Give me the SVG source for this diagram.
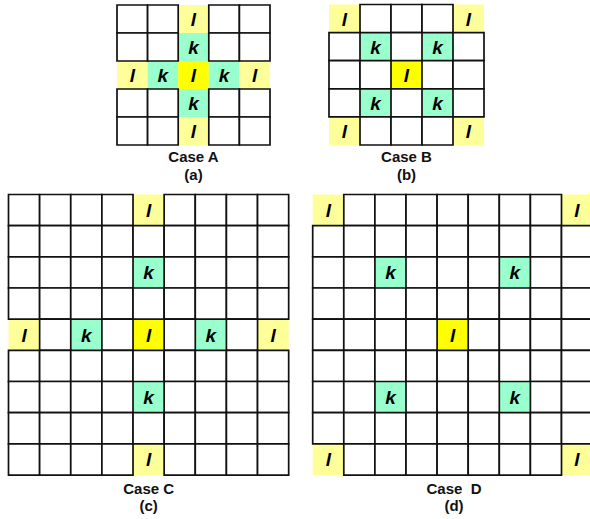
<svg xmlns="http://www.w3.org/2000/svg" width="590" height="519" viewBox="0 0 590 519">
<style>
.w{fill:#fff;stroke:#111;stroke-width:1.7;vector-effect:non-scaling-stroke}
.y{fill:#ffff99}
.g{fill:#99ffcc}
.b{fill:#ffff00}
.t{font-family:"Liberation Sans",Arial,sans-serif;font-weight:bold;font-style:italic;font-size:19px;fill:#000;text-anchor:middle}
.c{font-family:"Liberation Sans",Arial,sans-serif;font-weight:bold;font-size:15px;fill:#111;text-anchor:middle;white-space:pre}
</style>
<rect width="590" height="519" fill="#fff"/>
<g id="caseA">
<g transform="translate(117,5) scale(30.6,28)">
<rect class="y" x="2" y="0" width="1" height="1"/><rect class="g" x="2" y="1" width="1" height="1"/>
<rect class="y" x="0" y="2" width="1" height="1"/><rect class="g" x="1" y="2" width="1" height="1"/><rect class="b" x="2" y="2" width="1" height="1"/><rect class="g" x="3" y="2" width="1" height="1"/><rect class="y" x="4" y="2" width="1" height="1"/>
<rect class="g" x="2" y="3" width="1" height="1"/><rect class="y" x="2" y="4" width="1" height="1"/>
<rect class="w" x="0" y="0" width="1" height="1"/><rect class="w" x="1" y="0" width="1" height="1"/><rect class="w" x="3" y="0" width="1" height="1"/><rect class="w" x="4" y="0" width="1" height="1"/>
<rect class="w" x="0" y="1" width="1" height="1"/><rect class="w" x="1" y="1" width="1" height="1"/><rect class="w" x="3" y="1" width="1" height="1"/><rect class="w" x="4" y="1" width="1" height="1"/>
<rect class="w" x="0" y="3" width="1" height="1"/><rect class="w" x="1" y="3" width="1" height="1"/><rect class="w" x="3" y="3" width="1" height="1"/><rect class="w" x="4" y="3" width="1" height="1"/>
<rect class="w" x="0" y="4" width="1" height="1"/><rect class="w" x="1" y="4" width="1" height="1"/><rect class="w" x="3" y="4" width="1" height="1"/><rect class="w" x="4" y="4" width="1" height="1"/>
</g>
<text class="t" x="193.5" y="26">l</text><text class="t" x="193.5" y="54">k</text>
<text class="t" x="132.3" y="82">l</text><text class="t" x="162.9" y="82">k</text><text class="t" x="193.5" y="82">l</text><text class="t" x="224.1" y="82">k</text><text class="t" x="254.7" y="82">l</text>
<text class="t" x="193.5" y="110">k</text><text class="t" x="193.5" y="138">l</text>
<text class="c" x="193.5" y="162">Case A</text><text class="c" x="193.5" y="180">(a)</text>
</g>
<g id="caseB">
<g transform="translate(329,4.5) scale(31,28.1)">
<rect class="y" x="0" y="0" width="1" height="1"/><rect class="y" x="4" y="0" width="1" height="1"/><rect class="y" x="0" y="4" width="1" height="1"/><rect class="y" x="4" y="4" width="1" height="1"/>
<rect class="g" x="1" y="1" width="1" height="1"/><rect class="g" x="3" y="1" width="1" height="1"/><rect class="g" x="1" y="3" width="1" height="1"/><rect class="g" x="3" y="3" width="1" height="1"/>
<rect class="b" x="2" y="2" width="1" height="1"/>
<rect class="w" x="1" y="0" width="1" height="1"/><rect class="w" x="2" y="0" width="1" height="1"/><rect class="w" x="3" y="0" width="1" height="1"/>
<rect class="w" x="0" y="1" width="1" height="1"/><rect class="w" x="2" y="1" width="1" height="1"/><rect class="w" x="4" y="1" width="1" height="1"/>
<rect class="w" x="0" y="2" width="1" height="1"/><rect class="w" x="1" y="2" width="1" height="1"/><rect class="w" x="3" y="2" width="1" height="1"/><rect class="w" x="4" y="2" width="1" height="1"/>
<rect class="w" x="0" y="3" width="1" height="1"/><rect class="w" x="2" y="3" width="1" height="1"/><rect class="w" x="4" y="3" width="1" height="1"/>
<rect class="w" x="1" y="4" width="1" height="1"/><rect class="w" x="2" y="4" width="1" height="1"/><rect class="w" x="3" y="4" width="1" height="1"/>
</g>
<text class="t" x="344.5" y="25.5">l</text><text class="t" x="468.5" y="25.5">l</text>
<text class="t" x="375.5" y="53.6">k</text><text class="t" x="437.5" y="53.6">k</text>
<text class="t" x="406.5" y="81.7">l</text>
<text class="t" x="375.5" y="109.8">k</text><text class="t" x="437.5" y="109.8">k</text>
<text class="t" x="344.5" y="137.9">l</text><text class="t" x="468.5" y="137.9">l</text>
<text class="c" x="406.5" y="162">Case B</text><text class="c" x="406.5" y="180">(b)</text>
</g>
<g id="caseC">
<g transform="translate(8.5,194.5) scale(31.13,31.17)">
<rect class="y" x="4" y="0" width="1" height="1"/><rect class="g" x="4" y="2" width="1" height="1"/>
<rect class="y" x="0" y="4" width="1" height="1"/><rect class="g" x="2" y="4" width="1" height="1"/><rect class="b" x="4" y="4" width="1" height="1"/><rect class="g" x="6" y="4" width="1" height="1"/><rect class="y" x="8" y="4" width="1" height="1"/>
<rect class="g" x="4" y="6" width="1" height="1"/><rect class="y" x="4" y="8" width="1" height="1"/>
<rect class="w" x="0" y="0" width="1" height="1"/><rect class="w" x="1" y="0" width="1" height="1"/><rect class="w" x="2" y="0" width="1" height="1"/><rect class="w" x="3" y="0" width="1" height="1"/><rect class="w" x="5" y="0" width="1" height="1"/><rect class="w" x="6" y="0" width="1" height="1"/><rect class="w" x="7" y="0" width="1" height="1"/><rect class="w" x="8" y="0" width="1" height="1"/>
<rect class="w" x="0" y="1" width="1" height="1"/><rect class="w" x="1" y="1" width="1" height="1"/><rect class="w" x="2" y="1" width="1" height="1"/><rect class="w" x="3" y="1" width="1" height="1"/><rect class="w" x="4" y="1" width="1" height="1"/><rect class="w" x="5" y="1" width="1" height="1"/><rect class="w" x="6" y="1" width="1" height="1"/><rect class="w" x="7" y="1" width="1" height="1"/><rect class="w" x="8" y="1" width="1" height="1"/>
<rect class="w" x="0" y="2" width="1" height="1"/><rect class="w" x="1" y="2" width="1" height="1"/><rect class="w" x="2" y="2" width="1" height="1"/><rect class="w" x="3" y="2" width="1" height="1"/><rect class="w" x="5" y="2" width="1" height="1"/><rect class="w" x="6" y="2" width="1" height="1"/><rect class="w" x="7" y="2" width="1" height="1"/><rect class="w" x="8" y="2" width="1" height="1"/>
<rect class="w" x="0" y="3" width="1" height="1"/><rect class="w" x="1" y="3" width="1" height="1"/><rect class="w" x="2" y="3" width="1" height="1"/><rect class="w" x="3" y="3" width="1" height="1"/><rect class="w" x="4" y="3" width="1" height="1"/><rect class="w" x="5" y="3" width="1" height="1"/><rect class="w" x="6" y="3" width="1" height="1"/><rect class="w" x="7" y="3" width="1" height="1"/><rect class="w" x="8" y="3" width="1" height="1"/>
<rect class="w" x="1" y="4" width="1" height="1"/><rect class="w" x="3" y="4" width="1" height="1"/><rect class="w" x="5" y="4" width="1" height="1"/><rect class="w" x="7" y="4" width="1" height="1"/>
<rect class="w" x="0" y="5" width="1" height="1"/><rect class="w" x="1" y="5" width="1" height="1"/><rect class="w" x="2" y="5" width="1" height="1"/><rect class="w" x="3" y="5" width="1" height="1"/><rect class="w" x="4" y="5" width="1" height="1"/><rect class="w" x="5" y="5" width="1" height="1"/><rect class="w" x="6" y="5" width="1" height="1"/><rect class="w" x="7" y="5" width="1" height="1"/><rect class="w" x="8" y="5" width="1" height="1"/>
<rect class="w" x="0" y="6" width="1" height="1"/><rect class="w" x="1" y="6" width="1" height="1"/><rect class="w" x="2" y="6" width="1" height="1"/><rect class="w" x="3" y="6" width="1" height="1"/><rect class="w" x="5" y="6" width="1" height="1"/><rect class="w" x="6" y="6" width="1" height="1"/><rect class="w" x="7" y="6" width="1" height="1"/><rect class="w" x="8" y="6" width="1" height="1"/>
<rect class="w" x="0" y="7" width="1" height="1"/><rect class="w" x="1" y="7" width="1" height="1"/><rect class="w" x="2" y="7" width="1" height="1"/><rect class="w" x="3" y="7" width="1" height="1"/><rect class="w" x="4" y="7" width="1" height="1"/><rect class="w" x="5" y="7" width="1" height="1"/><rect class="w" x="6" y="7" width="1" height="1"/><rect class="w" x="7" y="7" width="1" height="1"/><rect class="w" x="8" y="7" width="1" height="1"/>
<rect class="w" x="0" y="8" width="1" height="1"/><rect class="w" x="1" y="8" width="1" height="1"/><rect class="w" x="2" y="8" width="1" height="1"/><rect class="w" x="3" y="8" width="1" height="1"/><rect class="w" x="5" y="8" width="1" height="1"/><rect class="w" x="6" y="8" width="1" height="1"/><rect class="w" x="7" y="8" width="1" height="1"/><rect class="w" x="8" y="8" width="1" height="1"/>
</g>
<text class="t" x="148.6" y="217">l</text><text class="t" x="148.6" y="279.3">k</text>
<text class="t" x="24.1" y="341.7">l</text><text class="t" x="86.3" y="341.7">k</text><text class="t" x="148.6" y="341.7">l</text><text class="t" x="210.8" y="341.7">k</text><text class="t" x="273.1" y="341.7">l</text>
<text class="t" x="148.6" y="404">k</text><text class="t" x="148.6" y="466.3">l</text>
<text class="c" x="148.7" y="494">Case C</text><text class="c" x="148.7" y="511">(c)</text>
</g>
<g id="caseD">
<g transform="translate(312.7,194.5) scale(31.1,31.17)">
<rect class="y" x="0" y="0" width="1" height="1"/><rect class="y" x="8" y="0" width="1" height="1"/><rect class="y" x="0" y="8" width="1" height="1"/><rect class="y" x="8" y="8" width="1" height="1"/>
<rect class="g" x="2" y="2" width="1" height="1"/><rect class="g" x="6" y="2" width="1" height="1"/><rect class="g" x="2" y="6" width="1" height="1"/><rect class="g" x="6" y="6" width="1" height="1"/>
<rect class="b" x="4" y="4" width="1" height="1"/>
<rect class="w" x="1" y="0" width="1" height="1"/><rect class="w" x="2" y="0" width="1" height="1"/><rect class="w" x="3" y="0" width="1" height="1"/><rect class="w" x="4" y="0" width="1" height="1"/><rect class="w" x="5" y="0" width="1" height="1"/><rect class="w" x="6" y="0" width="1" height="1"/><rect class="w" x="7" y="0" width="1" height="1"/>
<rect class="w" x="0" y="1" width="1" height="1"/><rect class="w" x="1" y="1" width="1" height="1"/><rect class="w" x="2" y="1" width="1" height="1"/><rect class="w" x="3" y="1" width="1" height="1"/><rect class="w" x="4" y="1" width="1" height="1"/><rect class="w" x="5" y="1" width="1" height="1"/><rect class="w" x="6" y="1" width="1" height="1"/><rect class="w" x="7" y="1" width="1" height="1"/><rect class="w" x="8" y="1" width="1" height="1"/>
<rect class="w" x="0" y="2" width="1" height="1"/><rect class="w" x="1" y="2" width="1" height="1"/><rect class="w" x="3" y="2" width="1" height="1"/><rect class="w" x="4" y="2" width="1" height="1"/><rect class="w" x="5" y="2" width="1" height="1"/><rect class="w" x="7" y="2" width="1" height="1"/><rect class="w" x="8" y="2" width="1" height="1"/>
<rect class="w" x="0" y="3" width="1" height="1"/><rect class="w" x="1" y="3" width="1" height="1"/><rect class="w" x="2" y="3" width="1" height="1"/><rect class="w" x="3" y="3" width="1" height="1"/><rect class="w" x="4" y="3" width="1" height="1"/><rect class="w" x="5" y="3" width="1" height="1"/><rect class="w" x="6" y="3" width="1" height="1"/><rect class="w" x="7" y="3" width="1" height="1"/><rect class="w" x="8" y="3" width="1" height="1"/>
<rect class="w" x="0" y="4" width="1" height="1"/><rect class="w" x="1" y="4" width="1" height="1"/><rect class="w" x="2" y="4" width="1" height="1"/><rect class="w" x="3" y="4" width="1" height="1"/><rect class="w" x="5" y="4" width="1" height="1"/><rect class="w" x="6" y="4" width="1" height="1"/><rect class="w" x="7" y="4" width="1" height="1"/><rect class="w" x="8" y="4" width="1" height="1"/>
<rect class="w" x="0" y="5" width="1" height="1"/><rect class="w" x="1" y="5" width="1" height="1"/><rect class="w" x="2" y="5" width="1" height="1"/><rect class="w" x="3" y="5" width="1" height="1"/><rect class="w" x="4" y="5" width="1" height="1"/><rect class="w" x="5" y="5" width="1" height="1"/><rect class="w" x="6" y="5" width="1" height="1"/><rect class="w" x="7" y="5" width="1" height="1"/><rect class="w" x="8" y="5" width="1" height="1"/>
<rect class="w" x="0" y="6" width="1" height="1"/><rect class="w" x="1" y="6" width="1" height="1"/><rect class="w" x="3" y="6" width="1" height="1"/><rect class="w" x="4" y="6" width="1" height="1"/><rect class="w" x="5" y="6" width="1" height="1"/><rect class="w" x="7" y="6" width="1" height="1"/><rect class="w" x="8" y="6" width="1" height="1"/>
<rect class="w" x="0" y="7" width="1" height="1"/><rect class="w" x="1" y="7" width="1" height="1"/><rect class="w" x="2" y="7" width="1" height="1"/><rect class="w" x="3" y="7" width="1" height="1"/><rect class="w" x="4" y="7" width="1" height="1"/><rect class="w" x="5" y="7" width="1" height="1"/><rect class="w" x="6" y="7" width="1" height="1"/><rect class="w" x="7" y="7" width="1" height="1"/><rect class="w" x="8" y="7" width="1" height="1"/>
<rect class="w" x="1" y="8" width="1" height="1"/><rect class="w" x="2" y="8" width="1" height="1"/><rect class="w" x="3" y="8" width="1" height="1"/><rect class="w" x="4" y="8" width="1" height="1"/><rect class="w" x="5" y="8" width="1" height="1"/><rect class="w" x="6" y="8" width="1" height="1"/><rect class="w" x="7" y="8" width="1" height="1"/>
</g>
<text class="t" x="328.3" y="217">l</text><text class="t" x="577" y="217">l</text>
<text class="t" x="390.5" y="279.3">k</text><text class="t" x="514.9" y="279.3">k</text>
<text class="t" x="452.7" y="341.7">l</text>
<text class="t" x="390.5" y="404">k</text><text class="t" x="514.9" y="404">k</text>
<text class="t" x="328.3" y="466.3">l</text><text class="t" x="577" y="466.3">l</text>
<text class="c" x="454" y="494">Case  D</text><text class="c" x="454" y="511">(d)</text>
</g>
</svg>
